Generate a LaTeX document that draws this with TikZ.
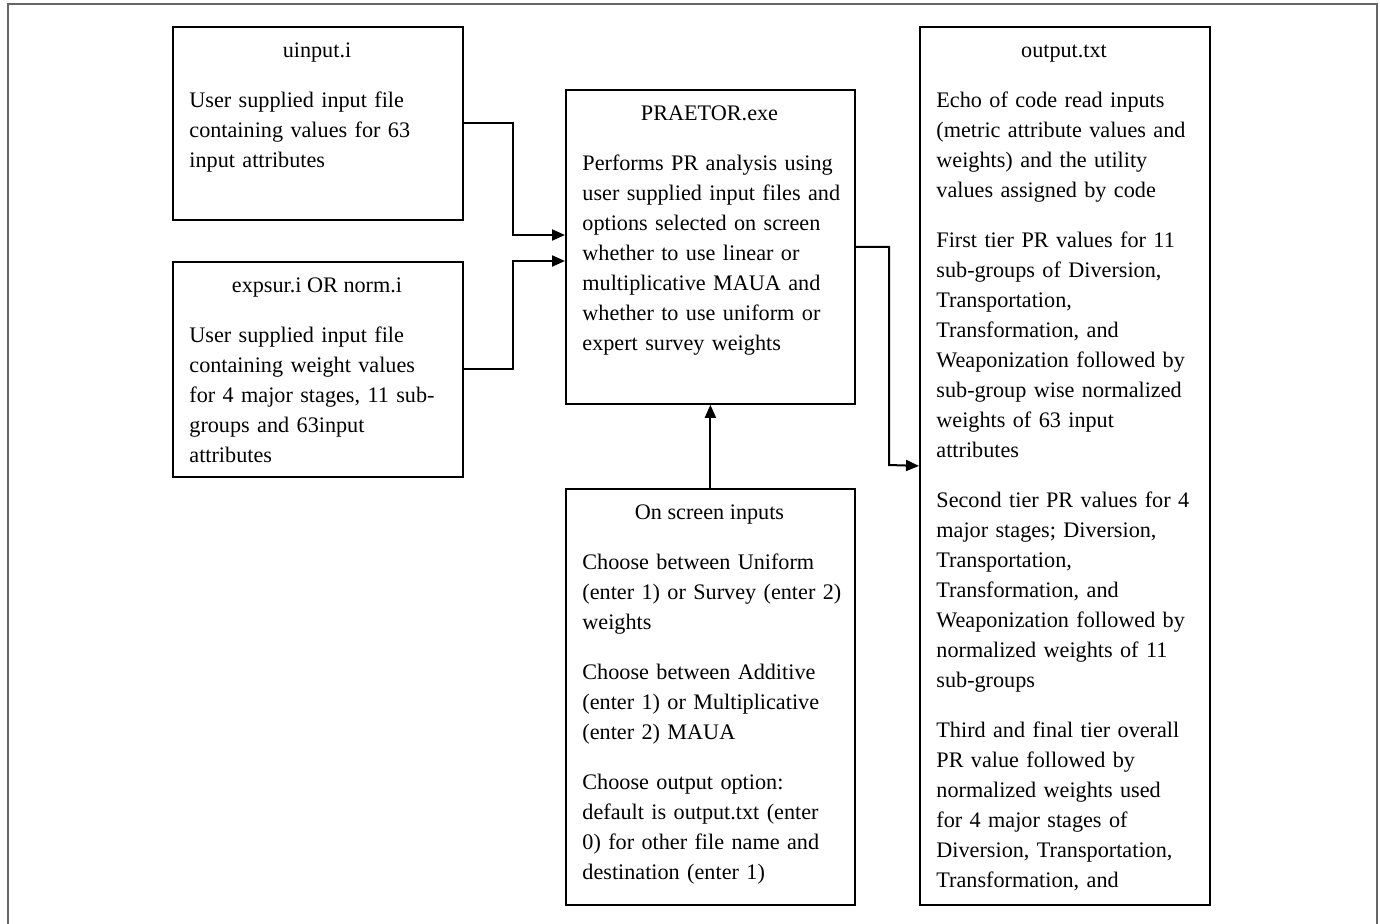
\documentclass[tikz,border=0pt]{standalone}
\usepackage{fontspec}
\setmainfont{Liberation Serif}
\usetikzlibrary{arrows.meta}
\begin{document}
\begin{tikzpicture}[x=0.5pt,y=-0.5pt,
  box/.style={draw, line width=0.9pt, inner sep=0pt, anchor=north west},
  ttl/.style={anchor=base, inner sep=0pt, font=\fontsize{11.1pt}{15pt}\selectfont},
  txt/.style={anchor=base west, inner sep=0pt, text width=200pt, align=left, font=\fontsize{11.1pt}{15pt}\selectfont},
  conn/.style={line width=1pt, -{Triangle[length=6.5pt,width=5.5pt]}},
  frame/.style={draw=black!60, line width=1pt}]
\clip (0,0) rectangle (1380,923);
\fill[white] (0,0) rectangle (1380,923);
\draw[frame] (8,940) -- (8,4) -- (1377,4) -- (1377,940);

% boxes
\node[box, minimum width=145pt, minimum height=96.5pt] (uinput) at (172,26) {};
\node[box, minimum width=145pt, minimum height=107.5pt] (expsur) at (172,261) {};
\node[box, minimum width=144.5pt, minimum height=157pt] (praetor) at (565,89) {};
\node[box, minimum width=144.5pt, minimum height=208pt] (onscreen) at (565,488) {};
\node[box, minimum width=145pt, minimum height=439pt] (output) at (919,26) {};

% uinput
\node[ttl] (t1) at (317,57) {uinput.i};
\node[txt] (u1) at (189,107) {User supplied input file\\ containing values for 63\\ input attributes};

% expsur
\node[ttl] (t2) at (317,292) {expsur.i OR norm.i};
\node[txt] (e1) at (189,342) {User supplied input file\\ containing weight values\\ for 4 major stages, 11 sub-\\ groups and 63input\\ attributes};

% praetor
\node[ttl] (t3) at (709.5,120) {PRAETOR.exe};
\node[txt] (p1) at (582,170) {Performs PR analysis using\\ user supplied input files and\\ options selected on screen\\ whether to use linear or\\ multiplicative MAUA and\\ whether to use uniform or\\ expert survey weights};

% on screen
\node[ttl] (t4) at (709.5,519) {On screen inputs};
\node[txt] (o1) at (582,569) {Choose between Uniform\\ (enter 1) or Survey (enter 2)\\ weights};
\node[txt] (o2) at (582,679) {Choose between Additive\\ (enter 1) or Multiplicative\\ (enter 2) MAUA};
\node[txt] (o3) at (582,789) {Choose output option:\\ default is output.txt (enter\\ 0) for other file name and\\ destination (enter 1)};

% output
\node[ttl] (t5) at (1064,57) {output.txt};
\node[txt] (r1) at (936,107) {Echo of code read inputs\\ (metric attribute values and\\ weights) and the utility\\ values assigned by code};
\node[txt] (r2) at (936,247) {First tier PR values for 11\\ sub-groups of Diversion,\\ Transportation,\\ Transformation, and\\ Weaponization followed by\\ sub-group wise normalized\\ weights of 63 input\\ attributes};
\node[txt] (r3) at (936,507) {Second tier PR values for 4\\ major stages; Diversion,\\ Transportation,\\ Transformation, and\\ Weaponization followed by\\ normalized weights of 11\\ sub-groups};
\node[txt] (r4) at (936,737) {Third and final tier overall\\ PR value followed by\\ normalized weights used\\ for 4 major stages of\\ Diversion, Transportation,\\ Transformation, and};

% connectors
\draw[conn] (uinput.east) -| (513,235) -- (praetor.west |- 0,235);
\draw[conn] (expsur.east) -| (513,261) -- (praetor.west |- 0,261);
\draw[conn] (praetor.east) -| (889,465) -- (output.west);
\draw[conn] (onscreen.north) -- (praetor.south);
\end{tikzpicture}
\end{document}
